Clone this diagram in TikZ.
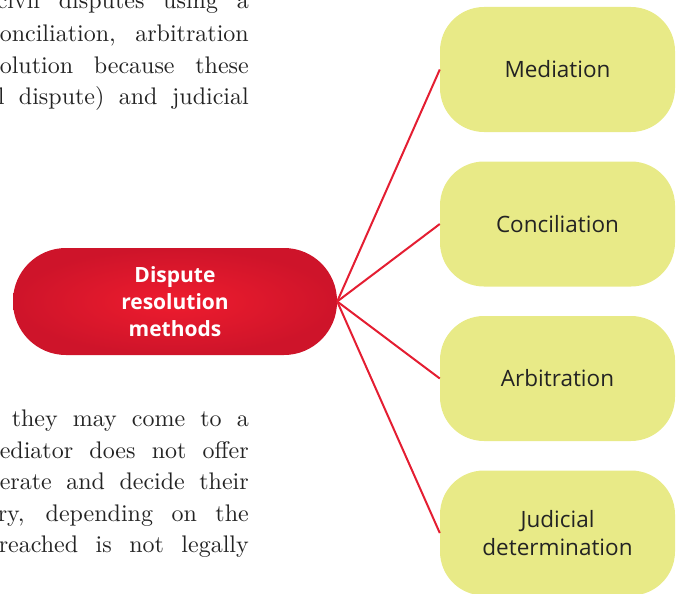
\documentclass[tikz,border=0pt]{standalone}
\usepackage{fontspec}
\newfontfamily\labelfont{Open Sans}
\newfontfamily\bodyfont{lmroman10-regular.otf}
\usetikzlibrary{positioning}
\definecolor{pillred}{RGB}{238,28,46}
\definecolor{pilledge}{RGB}{206,20,42}
\definecolor{linkred}{RGB}{228,30,50}
\definecolor{optfill}{RGB}{232,234,135}
\definecolor{bodytext}{RGB}{35,35,35}
\definecolor{labeltext}{RGB}{35,35,35}
\tikzset{
  hub/.style={minimum width=324pt, minimum height=107pt, rounded corners=53pt,
    inner color=pillred, outer color=pilledge, align=center,
    font=\labelfont\bfseries\fontsize{21}{27}\selectfont, text=white},
  option/.style={fill=optfill, minimum width=235pt, minimum height=125pt,
    rounded corners=44pt, align=center,
    font=\labelfont\fontsize{22.5}{28}\selectfont, text=labeltext},
  link/.style={draw=linkred, line width=2pt},
  bodyline/.style={anchor=base east, inner sep=0pt, text=bodytext,
    font=\bodyfont\fontsize{24}{31}\selectfont}
}
\begin{document}
\begin{tikzpicture}[x=1pt,y=-1pt]
\useasboundingbox (0,0) rectangle (680,594);
\clip (0,0) rectangle (680,594);
% paragraph fragments
\node[bodyline] (t1) at (249,9) {\makebox[252pt][s]{civil disputes using a}};
\node[bodyline] (t2) at (249,41.7) {\makebox[249pt][s]{onciliation, arbitration}};
\node[bodyline] (t3) at (249,73.2) {\makebox[249pt][s]{olution because these}};
\node[bodyline] (t4) at (249,104.7) {\makebox[251pt][s]{l dispute) and judicial}};
\node[bodyline] (b1) at (249,426.5) {\makebox[237pt][s]{they may come to a}};
\node[bodyline] (b2) at (249,458) {\makebox[249pt][s]{ediator does not offer}};
\node[bodyline] (b3) at (249,489.5) {\makebox[249pt][s]{erate and decide their}};
\node[bodyline] (b4) at (249,521) {\makebox[251pt][s]{ry, depending on the}};
\node[bodyline] (b5) at (249,552.5) {\makebox[250pt][s]{reached is not legally}};
% nodes
\node[hub] (hub) at (175,301.5) {Dispute\\resolution\\methods};
\node[option] (med) at (557.5,69.5) {Mediation};
\node[option] (con) at (557.5,224) {Conciliation};
\node[option] (arb) at (557.5,378.5) {Arbitration};
\node[option] (jud) at (557.5,533) {Judicial\\determination};
% connectors
\foreach \t in {med,con,arb,jud}
  \draw[link] (hub.east) -- (\t.west);
\end{tikzpicture}
\end{document}
